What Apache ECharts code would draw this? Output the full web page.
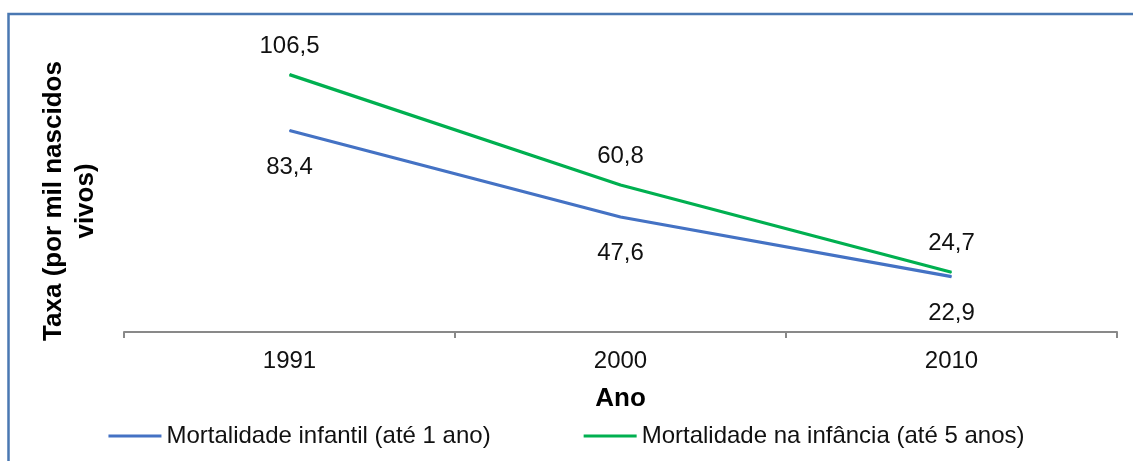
<!DOCTYPE html>
<html>
<head>
<meta charset="utf-8">
<script src="https://cdn.jsdelivr.net/npm/echarts@6/dist/echarts.min.js"></script>
<style>
html,body{margin:0;padding:0;background:#fff;}
#chart{width:1133px;height:461px;}
</style>
</head>
<body>
<div id="chart"></div>
<script>
const categories = ['1991', '2000', '2010'];
const infantil = [83.4, 47.6, 22.9];
const infancia = [106.5, 60.8, 24.7];
const seriesNames = ['Mortalidade infantil (até 1 ano)', 'Mortalidade na infância (até 5 anos)'];
const yTitle = 'Taxa (por mil nascidos\nvivos)';
const xTitle = 'Ano';

const FONT = 'Liberation Sans, Arial, sans-serif';
const fmt = p => String(p.value).replace('.', ',');

const chart = echarts.init(document.getElementById('chart'), null, {renderer: 'canvas'});
chart.setOption({
  animation: false,
  backgroundColor: '#ffffff',
  grid: {left: 124, right: 16, top: 42, bottom: 129},
  graphic: [
    {type: 'rect', z: 100,
     shape: {x: 8.5, y: 14, width: 1300, height: 600},
     style: {fill: 'none', stroke: '#4a78b2', lineWidth: 2.5}},
    {type: 'text', x: 70, y: 201, rotation: Math.PI / 2, z: 100,
     style: {text: yTitle, font: 'bold 26px ' + FONT, fill: '#000', align: 'center', verticalAlign: 'middle', lineHeight: 32}}
  ],
  legend: {
    bottom: 8,
    left: 'center',
    itemWidth: 53,
    itemHeight: 3,
    itemGap: 93,
    icon: 'rect',
    textStyle: {fontFamily: FONT, fontSize: 24, color: '#111'},
    data: seriesNames
  },
  xAxis: {
    type: 'category',
    data: categories,
    boundaryGap: true,
    name: xTitle,
    nameLocation: 'middle',
    nameGap: 54,
    nameTextStyle: {fontFamily: FONT, fontSize: 26, fontWeight: 'bold', color: '#000'},
    axisLine: {lineStyle: {color: '#898989', width: 2}},
    axisTick: {show: true, length: 6, lineStyle: {color: '#898989', width: 2}},
    axisLabel: {fontFamily: FONT, fontSize: 24, color: '#111', margin: 17}
  },
  yAxis: {
    type: 'value',
    min: 0,
    max: 120,
    interval: 20,
    show: false,
    splitLine: {show: false}
  },
  series: [
    {
      name: seriesNames[0], type: 'line', data: infantil,
      symbol: 'circle', symbolSize: 1, showSymbol: true, color: '#4472c4',
      itemStyle: {color: '#4472c4'},
      lineStyle: {width: 3.2, color: '#4472c4'},
      label: {show: true, position: 'bottom', distance: 24, formatter: fmt,
              fontFamily: FONT, fontSize: 24, color: '#111'}
    },
    {
      name: seriesNames[1], type: 'line', data: infancia,
      symbol: 'circle', symbolSize: 1, showSymbol: true, color: '#00b050',
      itemStyle: {color: '#00b050'},
      lineStyle: {width: 3.2, color: '#00b050'},
      label: {show: true, position: 'top', distance: 16, formatter: fmt,
              fontFamily: FONT, fontSize: 24, color: '#111'}
    }
  ]
});
</script>
</body>
</html>
